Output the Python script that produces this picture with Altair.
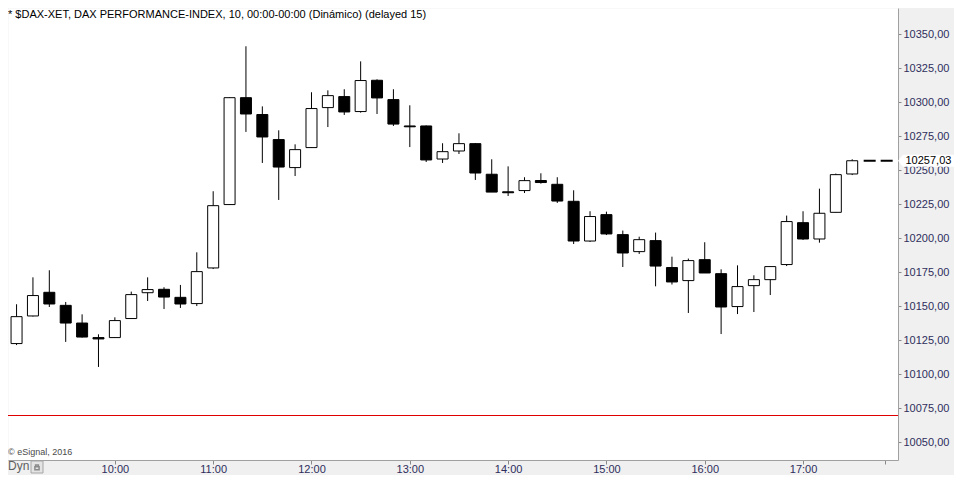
import altair as alt
import pandas as pd

# ---------------- data ----------------
times = ["09:00", "09:10", "09:20", "09:30", "09:40", "09:50",
         "10:00", "10:10", "10:20", "10:30", "10:40", "10:50",
         "11:00", "11:10", "11:20", "11:30", "11:40", "11:50",
         "12:00", "12:10", "12:20", "12:30", "12:40", "12:50",
         "13:00", "13:10", "13:20", "13:30", "13:40", "13:50",
         "14:00", "14:10", "14:20", "14:30", "14:40", "14:50",
         "15:00", "15:10", "15:20", "15:30", "15:40", "15:50",
         "16:00", "16:10", "16:20", "16:30", "16:40", "16:50",
         "17:00", "17:10", "17:20", "17:30"]
opens = [10122.6, 10142.9, 10160.3, 10150.7, 10137.7, 10127.0,
         10127.0, 10141.0, 10160.0, 10162.5, 10156.6, 10152.0,
         10178.2, 10224.8, 10303.4, 10291.0, 10272.6, 10252.0,
         10266.7, 10296.1, 10304.2, 10293.2, 10316.2, 10302.0,
         10282.6, 10282.6, 10258.3, 10264.2, 10269.6, 10247.1,
         10234.2, 10235.1, 10242.5, 10239.7, 10227.2, 10198.0,
         10217.4, 10202.7, 10190.2, 10198.3, 10178.5, 10168.9,
         10184.3, 10174.0, 10149.8, 10165.2, 10169.6, 10180.7,
         10211.5, 10199.5, 10219.1, 10247.3]
highs = [10151.5, 10171.3, 10176.5, 10153.2, 10144.1, 10129.4,
         10141.9, 10160.8, 10171.3, 10164.0, 10165.7, 10189.7,
         10234.6, 10303.6, 10341.2, 10297.0, 10279.4, 10269.1,
         10307.4, 10308.8, 10309.6, 10330.1, 10316.9, 10309.6,
         10297.8, 10283.0, 10269.9, 10277.2, 10270.0, 10258.1,
         10252.9, 10244.9, 10247.8, 10244.9, 10235.3, 10219.9,
         10219.6, 10205.7, 10201.2, 10204.2, 10186.5, 10185.1,
         10197.1, 10177.2, 10180.1, 10172.8, 10179.2, 10216.7,
         10219.9, 10236.5, 10247.6, 10258.1]
lows = [10121.5, 10142.5, 10149.5, 10123.8, 10127.0, 10105.4,
        10126.8, 10140.8, 10153.9, 10148.0, 10148.8, 10150.2,
        10177.4, 10224.5, 10278.2, 10255.4, 10228.2, 10245.8,
        10266.5, 10281.8, 10290.7, 10292.4, 10291.4, 10282.6,
        10267.1, 10256.1, 10255.4, 10262.0, 10242.9, 10234.0,
        10231.1, 10233.3, 10240.2, 10226.0, 10195.8, 10197.3,
        10202.4, 10178.9, 10188.5, 10164.7, 10166.0, 10145.1,
        10174.5, 10129.6, 10144.3, 10145.8, 10158.3, 10179.6,
        10198.8, 10196.8, 10219.0, 10246.5]
closes = [10142.4, 10157.9, 10151.7, 10137.7, 10127.4, 10126.0,
          10139.5, 10158.6, 10162.3, 10156.8, 10151.7, 10175.5,
          10224.0, 10303.4, 10291.4, 10274.5, 10252.4, 10265.2,
          10295.4, 10304.9, 10292.9, 10316.0, 10303.2, 10284.0,
          10282.0, 10257.6, 10263.7, 10269.6, 10248.0, 10234.0,
          10233.5, 10242.4, 10241.0, 10227.4, 10198.0, 10216.0,
          10203.2, 10189.2, 10199.0, 10179.6, 10167.9, 10183.6,
          10174.5, 10149.5, 10164.5, 10169.6, 10179.2, 10212.3,
          10199.5, 10218.4, 10246.8, 10257.03]

y_ticks = [10050, 10075, 10100, 10125, 10150, 10175, 10200,
           10225, 10250, 10275, 10300, 10325, 10350]
hour_labels = ["10:00", "11:00", "12:00", "13:00", "14:00", "15:00", "16:00", "17:00"]
extra_tick = "17:50"
dash_start = "17:37"
last_price = 10257.03
ref_level = 10069.7
title_text = "* $DAX-XET, DAX PERFORMANCE-INDEX, 10, 00:00-00:00 (Dinámico) (delayed 15)"
copyright_text = "© eSignal, 2016"
mode_text = "Dyn"

# ---------------- helpers ----------------
def to_min(s):
    h, m = s.split(":")
    return int(h) * 60 + int(m) - 540

W, H = 890, 452
PAD_R, PAD_B = 56, 15
X_MIN, X_MAX = -2.17, 534.9
Y_MIN, Y_MAX = 10036.99, 10369.34
FONT = "Liberation Sans"
LABEL_COLOR = "#2e2e5c"

df = pd.DataFrame({
    "t": [to_min(s) for s in times],
    "time": times,
    "open": opens, "high": highs, "low": lows, "close": closes,
})
df["dir"] = ["up" if c >= o else "down" for o, c in zip(opens, closes)]

xs = alt.Scale(domain=[X_MIN, X_MAX], nice=False, zero=False)
ys = alt.Scale(domain=[Y_MIN, Y_MAX], nice=False, zero=False)

tick_vals = [to_min(s) for s in hour_labels] + [to_min(extra_tick)]
label_expr = "''"
for lab in reversed(hour_labels):
    label_expr = f"datum.value == {to_min(lab)} ? '{lab}' : " + label_expr

x_axis = alt.Axis(values=tick_vals, labelExpr=label_expr, title=None, grid=False,
                  tickSize=4, labelPadding=5, labelBaseline="middle")
y_axis = alt.Axis(orient="right", values=y_ticks,
                  labelExpr="replace(format(datum.value, '.2f'), '.', ',')",
                  title=None, grid=False, tickSize=3, labelPadding=2,
                  labelAlign="left", labelBaseline="middle")

base = alt.Chart(df)

wicks = base.mark_rule(color="black", strokeWidth=1).encode(
    x=alt.X("t:Q", scale=xs, axis=x_axis),
    y=alt.Y("low:Q", scale=ys, axis=y_axis),
    y2="high:Q",
)

red_line = alt.Chart(pd.DataFrame({"low": [ref_level]})).mark_rule(
    color="#e00000", strokeWidth=1
).encode(y=alt.Y("low:Q", scale=ys, axis=y_axis))

bodies = base.mark_bar(size=11, stroke="black", strokeWidth=1).encode(
    x=alt.X("t:Q", scale=xs, axis=x_axis),
    y=alt.Y("open:Q", scale=ys, axis=y_axis),
    y2="close:Q",
    fill=alt.Fill("dir:N", scale=alt.Scale(domain=["up", "down"], range=["white", "black"]),
                  legend=None),
)

last_df = pd.DataFrame({
    "t": [to_min(dash_start)], "t1": [X_MAX], "low": [last_price],
    "label": [f"{last_price:.2f}".replace(".", ",")],
})
dashed = alt.Chart(last_df).mark_rule(color="black", strokeWidth=2, strokeDash=[12, 5]).encode(
    x=alt.X("t:Q", scale=xs, axis=x_axis),
    x2="t1:Q",
    y=alt.Y("low:Q", scale=ys, axis=y_axis),
)

box_shape = "M -1 0 L -0.83 -0.2 L 1 -0.2 L 1 0.2 L -0.83 0.2 Z"
price_box = alt.Chart(last_df).mark_point(
    shape=box_shape, size=3600, filled=True, fill="white", opacity=1, strokeWidth=0
).encode(
    x=alt.value(W + 30),
    y=alt.Y("low:Q", scale=ys, axis=y_axis),
)
price_text = alt.Chart(last_df).mark_text(
    align="left", baseline="middle", font=FONT, fontSize=11, color="black"
).encode(
    x=alt.value(W + 7.5),
    y=alt.Y("low:Q", scale=ys, axis=y_axis),
    text="label:N",
)

title = alt.Chart(pd.DataFrame({"s": [title_text]})).mark_text(
    align="left", baseline="middle", font=FONT, fontSize=11, color="black"
).encode(x=alt.value(0), y=alt.value(7), text="s:N")

copyright_mark = alt.Chart(pd.DataFrame({"s": [copyright_text]})).mark_text(
    align="left", baseline="middle", font=FONT, fontSize=9, color="#4a4a4a"
).encode(x=alt.value(0), y=alt.value(444), text="s:N")

dyn = alt.Chart(pd.DataFrame({"s": [mode_text]})).mark_text(
    align="left", baseline="alphabetic", font=FONT, fontSize=12, color="#5f5f5f"
).encode(x=alt.value(0), y=alt.value(462), text="s:N")

lock_btn = alt.Chart(pd.DataFrame({"s": [mode_text]})).mark_point(
    shape="square", size=144, filled=True, fill="#e4e4e4", stroke="#a6a6a6",
    strokeWidth=1, opacity=1
).encode(x=alt.value(29), y=alt.value(459))
lock_glyph = alt.Chart(pd.DataFrame({"s": [mode_text]})).mark_point(
    shape="M -0.6 -0.1 L 0.6 -0.1 L 0.6 0.8 L -0.6 0.8 Z M -0.4 -0.1 L -0.4 -0.6 L 0.4 -0.6 L 0.4 -0.1",
    size=49, filled=False, stroke="#8a8a8a", strokeWidth=1.5, opacity=1
).encode(x=alt.value(29), y=alt.value(459))

chart = alt.layer(
    wicks, red_line, bodies, dashed, price_box, price_text,
    title, copyright_mark, dyn, lock_btn, lock_glyph
).properties(
    width=W, height=H,
    autosize=alt.AutoSizeParams(type="none"),
    padding={"left": 0, "top": 0, "right": PAD_R, "bottom": PAD_B},
    background="#f0f0f0",
).configure_view(
    fill="white", stroke="transparent"
).configure_axis(
    domainColor="#a0a0a0", domainWidth=1, tickColor="#8a8a8a",
    labelColor=LABEL_COLOR, labelFont=FONT, labelFontSize=11,
    labelFlush=False, labelOverlap=False
)

chart.save("out.html", embed_options={"renderer": "svg", "actions": False})
